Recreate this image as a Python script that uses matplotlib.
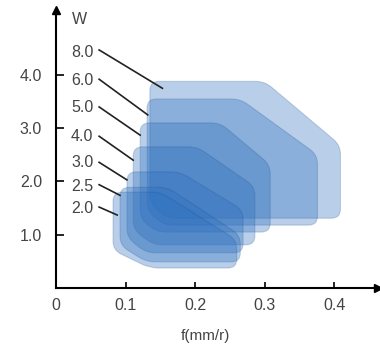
import numpy as np
import matplotlib.pyplot as plt
from matplotlib.path import Path
from matplotlib.patches import PathPatch

plt.rcParams['font.family'] = ['Liberation Sans', 'DejaVu Sans']

# regions, one entry per depth label
depth = ['8.0', '6.0', '5.0', '4.0', '3.0', '2.5', '2.0']
f_left = [0.135, 0.131, 0.121, 0.111, 0.102, 0.092, 0.082]
f_right = [0.409, 0.376, 0.308, 0.286, 0.269, 0.265, 0.260]
w_top = [3.88, 3.55, 3.10, 2.65, 2.18, 1.89, 1.80]
w_bottom = [1.31, 1.18, 1.05, 0.81, 0.66, 0.49, 0.375]
# top-right chamfer: where the top edge ends / where the right edge starts
tr_f = [0.300, 0.265, 0.236, 0.203, 0.178, 0.160, 0.150]
tr_w = [2.68, 2.50, 2.31, 1.90, 1.46, 0.99, 0.90]
# bottom-left chamfer: where the left edge ends / where the bottom edge starts
bl_w = [1.60, 1.45, 1.30, 1.10, 0.95, 0.80, 0.71]
bl_f = [0.160, 0.155, 0.145, 0.140, 0.130, 0.130, 0.135]

# label text and leader lines
lab_w = [4.43, 3.90, 3.38, 2.85, 2.36, 1.91, 1.50]
lead_w0 = [4.47, 3.92, 3.40, 2.85, 2.36, 1.94, 1.52]
lead_f1 = [0.153, 0.132, 0.121, 0.111, 0.102, 0.092, 0.088]
lead_w1 = [3.75, 3.25, 2.87, 2.40, 2.03, 1.74, 1.37]

xticks = [0, 0.1, 0.2, 0.3, 0.4]
yticks = [1, 2, 3, 4]


def rounded_path(ax, verts, r=9):
    pts = ax.transData.transform(verts)
    n = len(pts)
    out, codes = [], []
    for k in range(n):
        p = pts[k]
        da = pts[k - 1] - p
        db = pts[(k + 1) % n] - p
        la, lb = np.hypot(*da), np.hypot(*db)
        p1 = p + da / la * min(r, la / 2)
        p2 = p + db / lb * min(r, lb / 2)
        out.append(p1)
        codes.append(Path.MOVETO if k == 0 else Path.LINETO)
        out += [p, p2]
        codes += [Path.CURVE3, Path.CURVE3]
    out.append(out[0])
    codes.append(Path.CLOSEPOLY)
    back = ax.transData.inverted().transform(np.array(out))
    return Path(back, codes)


fig = plt.figure(figsize=(3.8, 3.47), dpi=100)
ax = fig.add_axes([56 / 380, 59 / 347, 322 / 380, 278 / 347])
ax.set_xlim(0, 0.463)
ax.set_ylim(0, 5.22)

for i in range(len(depth)):
    verts = [(f_left[i], bl_w[i]), (f_left[i], w_top[i]), (tr_f[i], w_top[i]),
             (f_right[i], tr_w[i]), (f_right[i], w_bottom[i]), (bl_f[i], w_bottom[i])]
    patch = PathPatch(rounded_path(ax, verts), facecolor=(0.17, 0.43, 0.74, 0.33),
                      edgecolor=(0.12, 0.30, 0.55, 0.22), lw=0.8)
    ax.add_patch(patch)

for i in range(len(depth)):
    ax.text(0.0216, lab_w[i], depth[i], fontsize=11.5, color='#444444',
            ha='left', va='center')
    ax.plot([0.062, lead_f1[i]], [lead_w0[i], lead_w1[i]], color='#222222', lw=1.2)

for s in ['top', 'right']:
    ax.spines[s].set_visible(False)
for s in ['left', 'bottom']:
    ax.spines[s].set_linewidth(1.5)
ax.plot(1, 0, '>', ms=6, color='k', transform=ax.transAxes, clip_on=False)
ax.plot(0, 1, '^', ms=6, color='k', transform=ax.transAxes, clip_on=False)

ax.set_xticks(xticks)
ax.set_xticklabels(['0', '0.1', '0.2', '0.3', '0.4'])
ax.set_yticks(yticks)
ax.set_yticklabels(['1.0', '2.0', '3.0', '4.0'])
ax.tick_params(axis='y', direction='in', length=6, width=1.2, pad=10,
               labelsize=11.5, labelcolor='#444444')
ax.tick_params(axis='x', direction='in', length=4, width=1.2, pad=7,
               labelsize=11.5, labelcolor='#444444')

ax.text(0.05, 0.965, 'W', transform=ax.transAxes, fontsize=11.5, color='#444444',
        ha='left', va='center')
fig.text(205 / 380, 1 - 336 / 347, 'f(mm/r)', fontsize=11, color='#444444',
         ha='center', va='center')

fig.savefig('out.png', dpi=100)
